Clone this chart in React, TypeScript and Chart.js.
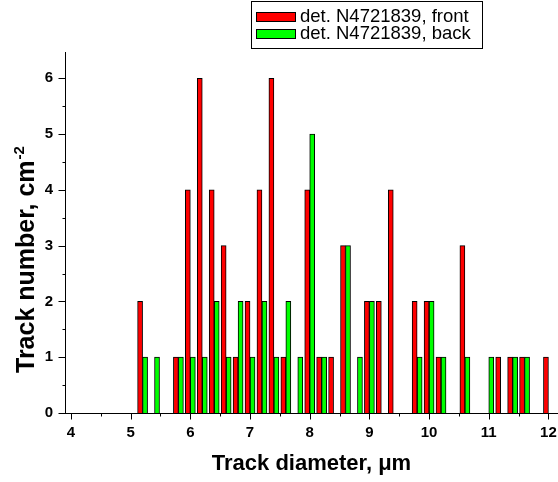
import { useEffect, useRef } from 'react';
import { Chart, registerables } from 'chart.js';

Chart.register(...registerables);

const diameters = [5.2, 5.4, 5.6, 5.8, 6.0, 6.2, 6.4, 6.6, 6.8, 7.0, 7.2, 7.4, 7.6, 7.8, 8.0, 8.2, 8.4, 8.6, 8.8, 9.0, 9.2, 9.4, 9.6, 9.8, 10.0, 10.2, 10.4, 10.6, 10.8, 11.0, 11.2, 11.4, 11.6, 11.8, 12.0];
const frontCounts = [2, 0, 0, 1, 4, 6, 4, 3, 1, 2, 4, 6, 1, 0, 4, 1, 1, 3, 0, 2, 2, 4, 0, 2, 2, 1, 0, 3, 0, 0, 1, 1, 1, 0, 1];
const backCounts = [1, 1, 0, 1, 1, 1, 2, 1, 2, 1, 2, 1, 2, 1, 5, 1, 0, 3, 1, 2, 0, 0, 0, 1, 2, 1, 0, 1, 0, 1, 0, 1, 1, 0, 0];
const seriesLabels = ['det. N4721839, front', 'det. N4721839, back'];
const seriesColors = ['#ff0000', '#00ff00'];
const xTickValues = [4, 5, 6, 7, 8, 9, 10, 11, 12];
const yTickValues = [0, 1, 2, 3, 4, 5, 6];
const xTitle = 'Track diameter, \u03bcm';
const yTitle = 'Track number, cm';
const yTitleSup = '-2';

const FONT = "'Liberation Sans', Arial, Helvetica, sans-serif";

const decorPlugin = {
  id: 'decor',
  afterDraw(chart: any) {
    const ctx = chart.ctx;
    const area = chart.chartArea;
    const xs = chart.scales.x;
    const ys = chart.scales.y;
    ctx.save();
    ctx.strokeStyle = '#000';
    ctx.lineWidth = 1;
    ctx.beginPath();
    ctx.moveTo(Math.round(area.left) + 0.5, area.top);
    ctx.lineTo(Math.round(area.left) + 0.5, Math.round(area.bottom) + 0.5);
    ctx.moveTo(area.left, Math.round(area.bottom) + 0.5);
    ctx.lineTo(area.right, Math.round(area.bottom) + 0.5);
    const yb = Math.round(area.bottom) + 0.5;
    for (let v = Math.ceil(xs.min * 2) / 2; v <= xs.max + 1e-9; v += 0.5) {
      const px = Math.round(xs.getPixelForValue(v)) + 0.5;
      const len = Math.abs(v - Math.round(v)) < 1e-9 ? 6 : 3;
      ctx.moveTo(px, yb);
      ctx.lineTo(px, yb + len);
    }
    const xl = Math.round(area.left) + 0.5;
    for (let v = Math.ceil(ys.min * 2) / 2; v <= ys.max + 1e-9; v += 0.5) {
      const py = Math.round(ys.getPixelForValue(v)) + 0.5;
      const len = Math.abs(v - Math.round(v)) < 1e-9 ? 7 : 3;
      ctx.moveTo(xl, py);
      ctx.lineTo(xl - len, py);
    }
    ctx.stroke();

    ctx.fillStyle = '#000';
    ctx.font = `bold 22px ${FONT}`;
    ctx.textAlign = 'center';
    ctx.textBaseline = 'alphabetic';
    ctx.fillText(xTitle, (area.left + area.right) / 2, 470);

    ctx.save();
    ctx.translate(34, 373);
    ctx.rotate(-Math.PI / 2);
    ctx.textAlign = 'left';
    ctx.font = `bold 25px ${FONT}`;
    ctx.fillText(yTitle, 0, 0);
    const w = ctx.measureText(yTitle).width;
    ctx.font = `bold 15px ${FONT}`;
    ctx.fillText(yTitleSup, w + 1, -10);
    ctx.restore();

    const bx = 251.5, by = 1.5, bw = 231, bh = 47;
    ctx.fillStyle = '#fff';
    ctx.fillRect(bx, by, bw, bh);
    ctx.strokeStyle = '#000';
    ctx.strokeRect(bx, by, bw, bh);
    chart.data.datasets.forEach((ds: any, i: number) => {
      const ry = 12 + i * 17;
      ctx.fillStyle = ds.backgroundColor;
      ctx.fillRect(256.5, ry + 0.5, 39, 9);
      ctx.strokeStyle = '#000';
      ctx.strokeRect(256.5, ry + 0.5, 39, 9);
      ctx.fillStyle = '#000';
      ctx.font = `18.5px ${FONT}`;
      ctx.textAlign = 'left';
      ctx.textBaseline = 'middle';
      ctx.fillText(ds.label, 300, ry + 5);
    });
    ctx.restore();
  },
};

export default function App() {
  const canvasRef = useRef<HTMLCanvasElement | null>(null);

  useEffect(() => {
    document.body.style.margin = '0';
    const canvas = canvasRef.current;
    if (!canvas) return;
    const makeData = (vals: number[]) =>
      diameters.map((d, i) => ({ x: d, y: vals[i] === 0 ? null : vals[i] }));
    const chart = new Chart(canvas, {
      type: 'bar',
      data: {
        datasets: [
          {
            label: seriesLabels[0],
            data: makeData(frontCounts) as any,
            backgroundColor: seriesColors[0],
            borderColor: '#000',
            borderWidth: 1,
            barThickness: 5,
          },
          {
            label: seriesLabels[1],
            data: makeData(backCounts) as any,
            backgroundColor: seriesColors[1],
            borderColor: '#000',
            borderWidth: 1,
            barThickness: 5,
          },
        ],
      },
      options: {
        responsive: false,
        animation: false,
        layout: { padding: { top: 52, left: 0, right: 0, bottom: 0 } },
        plugins: {
          legend: { display: false },
          tooltip: { enabled: false },
        },
        scales: {
          x: {
            type: 'linear',
            offset: false,
            min: 3.9,
            max: 12.16,
            afterFit: (s: any) => { s.height = 69; s.paddingLeft = 0; s.paddingRight = 0; },
            afterBuildTicks: (s: any) => { s.ticks = xTickValues.map((v) => ({ value: v })); },
            grid: { display: false, drawTicks: true, tickLength: 6, offset: false },
            border: { display: false },
            ticks: {
              color: '#000',
              font: { family: FONT, size: 15, weight: 'bold' },
              padding: 5,
              maxRotation: 0,
              autoSkip: false,
            },
          },
          y: {
            type: 'linear',
            min: 0,
            max: 6.47,
            afterFit: (s: any) => { s.width = 65; s.paddingTop = 0; s.paddingBottom = 0; },
            afterBuildTicks: (s: any) => { s.ticks = yTickValues.map((v) => ({ value: v })); },
            grid: { display: false, drawTicks: true, tickLength: 7 },
            border: { display: false },
            ticks: {
              color: '#000',
              font: { family: FONT, size: 15, weight: 'bold' },
              padding: 5,
              autoSkip: false,
            },
          },
        },
      } as any,
      plugins: [decorPlugin],
    });
    return () => chart.destroy();
  }, []);

  return <canvas ref={canvasRef} width={558} height={482} style={{ display: 'block' }} />;
}
